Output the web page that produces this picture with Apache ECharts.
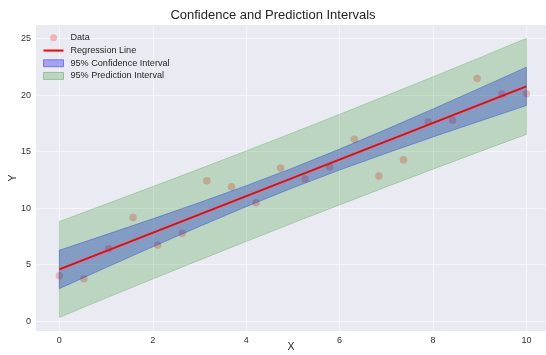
<!DOCTYPE html>
<html>
<head>
<meta charset="utf-8">
<script src="https://cdn.jsdelivr.net/npm/echarts@6/dist/echarts.min.js"></script>
<style>html,body{margin:0;padding:0;background:#fff;}#c{width:546px;height:355px;}</style>
</head>
<body>
<div id="c"></div>
<script>
// Scatter data
var dataX = [0, 0.526, 1.053, 1.579, 2.105, 2.632, 3.158, 3.684, 4.211, 4.737, 5.263, 5.789, 6.316, 6.842, 7.368, 7.895, 8.421, 8.947, 9.474, 10];
var dataY = [4.01, 3.74, 6.40, 9.17, 6.72, 7.76, 12.42, 11.89, 10.47, 13.54, 12.57, 13.63, 16.08, 12.83, 14.28, 17.64, 17.76, 21.47, 20.09, 20.12];
// Regression line endpoints
var lineX = [0, 10];
var lineY = [4.57, 20.77];
// Bands sampled at x = 0..10
var bandX = [0, 1, 2, 3, 4, 5, 6, 7, 8, 9, 10];
var ciLo = [2.87, 4.73, 6.57, 8.37, 10.12, 11.79, 13.36, 14.85, 16.29, 17.69, 19.07];
var ciHi = [6.27, 7.65, 9.05, 10.49, 11.98, 13.55, 15.22, 16.97, 18.77, 20.61, 22.47];
var piLo = [0.32, 2.03, 3.72, 5.39, 7.04, 8.67, 10.28, 11.87, 13.44, 14.99, 16.52];
var piHi = [8.82, 10.35, 11.90, 13.47, 15.06, 16.67, 18.30, 19.95, 21.62, 23.31, 25.02];
// Ticks
var xTicks = [0, 2, 4, 6, 8, 10];
var yTicks = [0, 5, 10, 15, 20, 25];

var FONT = '"Liberation Sans", Arial, sans-serif';

function bandSeries(name, lo, hi, fill, stroke, z) {
  var d = bandX.map(function (x, i) { return [x, lo[i], hi[i]]; });
  return {
    name: name, type: 'custom', z: z, data: d,
    itemStyle: { color: fill },
    renderItem: function (params, api) {
      if (params.dataIndex !== 0) return null;
      var pts = [];
      for (var i = 0; i < bandX.length; i++) pts.push(api.coord([bandX[i], hi[i]]));
      for (var j = bandX.length - 1; j >= 0; j--) pts.push(api.coord([bandX[j], lo[j]]));
      return { type: 'polygon', shape: { points: pts }, style: { fill: fill, stroke: stroke, lineWidth: 1 } };
    }
  };
}

var chart = echarts.init(document.getElementById('c'), null, { renderer: 'canvas' });
chart.setOption({
  animation: false,
  backgroundColor: '#ffffff',
  title: {
    text: 'Confidence and Prediction Intervals', left: 'center', top: 4,
    textStyle: { fontFamily: FONT, fontSize: 13, fontWeight: 'normal', color: '#262626' }
  },
  legend: {
    left: 38, top: 26.5, orient: 'vertical', itemWidth: 20, itemHeight: 7, itemGap: 0,
    textStyle: { fontFamily: FONT, fontSize: 9.1, color: '#262626', lineHeight: 12.7, padding: [0, 0, 0, 2] },
    data: [
      { name: 'Data', icon: 'circle', itemStyle: { color: 'rgba(255,0,0,0.3)' } },
      { name: 'Regression Line', icon: 'path://M0,0H40V4H0Z', itemStyle: { color: '#ff0000' } },
      { name: '95% Confidence Interval', icon: 'rect', itemStyle: { color: 'rgba(0,0,255,0.3)', borderColor: 'rgba(0,0,255,0.4)', borderWidth: 1 } },
      { name: '95% Prediction Interval', icon: 'rect', itemStyle: { color: 'rgba(0,128,0,0.2)', borderColor: 'rgba(0,128,0,0.3)', borderWidth: 1 } }
    ]
  },
  grid: { left: 36, right: 0, top: 25, bottom: 24, show: true, backgroundColor: '#eaeaf2', borderWidth: 0, containLabel: false, outerBoundsMode: 'none' },
  xAxis: {
    type: 'value', min: -0.5, max: 10.42,
    name: 'X', nameLocation: 'middle', nameGap: 11, nameMoveOverlap: false,
    nameTextStyle: { fontFamily: FONT, fontSize: 10.5, color: '#262626' },
    axisLine: { show: false }, axisTick: { show: false, customValues: xTicks },
    axisLabel: { customValues: xTicks, fontFamily: FONT, fontSize: 9, color: '#333', margin: 5 },
    splitLine: { show: true, lineStyle: { color: '#f6f6fa', width: 1 } }
  },
  yAxis: {
    type: 'value', min: -0.88, max: 26.2,
    name: 'Y', nameLocation: 'middle', nameGap: 17, nameRotate: 90, nameMoveOverlap: false,
    nameTextStyle: { fontFamily: FONT, fontSize: 10.5, color: '#262626' },
    axisLine: { show: false }, axisTick: { show: false, customValues: yTicks },
    axisLabel: { customValues: yTicks, fontFamily: FONT, fontSize: 9, color: '#333', margin: 5 },
    splitLine: { show: true, lineStyle: { color: '#f6f6fa', width: 1 } }
  },
  series: [
    {
      name: 'Data', type: 'scatter', z: 1, symbolSize: 7.5,
      itemStyle: { color: 'rgba(255,0,0,0.3)' },
      data: dataX.map(function (x, i) { return [x, dataY[i]]; })
    },
    bandSeries('95% Confidence Interval', ciLo, ciHi, 'rgba(0,0,255,0.3)', 'rgba(0,0,255,0.3)', 2),
    bandSeries('95% Prediction Interval', piLo, piHi, 'rgba(0,128,0,0.2)', 'rgba(0,128,0,0.2)', 3),
    {
      name: 'Regression Line', type: 'line', z: 4, symbol: 'none',
      lineStyle: { color: '#ff0000', width: 2 }, itemStyle: { color: '#ff0000' },
      data: lineX.map(function (x, i) { return [x, lineY[i]]; })
    }
  ]
});
</script>
</body>
</html>
